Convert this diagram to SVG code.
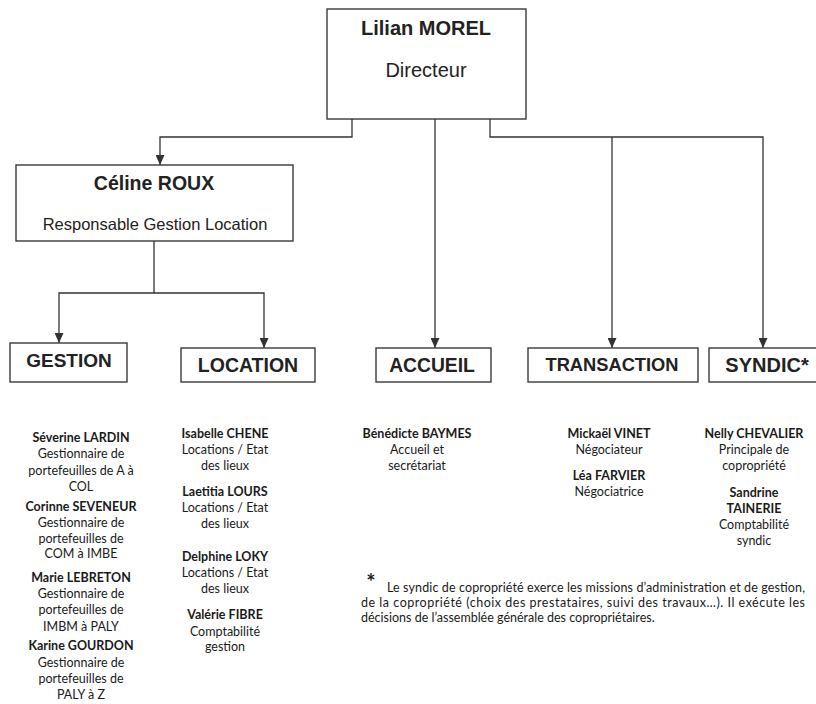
<svg xmlns="http://www.w3.org/2000/svg" width="816" height="704" viewBox="0 0 816 704">
<style>
.box{fill:#fff;stroke:#3a3a3a;stroke-width:1.4}
.conn{fill:none;stroke:#333;stroke-width:1.3}
.h{font-family:"Liberation Sans",Arial,sans-serif;fill:#222;text-anchor:middle}
.b{font-weight:bold}
.s{font-family:Lato,"Open Sans",sans-serif;font-size:12.5px;fill:#1a1a1a;text-anchor:middle}
.n{font-weight:bold}
.f{font-family:Lato,"Open Sans",sans-serif;font-size:12.5px;fill:#1a1a1a}
</style>
<defs>
<marker id="arr" markerUnits="userSpaceOnUse" markerWidth="10" markerHeight="9" refX="10" refY="4.5" orient="auto">
<path d="M0,0 L10,4.5 L0,9 z" fill="#333"/>
</marker>
</defs>
<rect width="816" height="704" fill="#fff"/>
<g id="connectors">
<path class="conn" d="M352,119 V137 H160 V165" marker-end="url(#arr)"/>
<path class="conn" d="M435,119 V348" marker-end="url(#arr)"/>
<path class="conn" d="M490,119 V137 H763 V348" marker-end="url(#arr)"/>
<path class="conn" d="M612,137 V348" marker-end="url(#arr)"/>
<path class="conn" d="M154,241 V293 H59 V343" marker-end="url(#arr)"/>
<path class="conn" d="M154,293 H264 V348" marker-end="url(#arr)"/>
</g>
<g id="directeur">
<rect class="box" x="327" y="9" width="199" height="110"/>
<text class="h b" x="426" y="35" font-size="20">Lilian MOREL</text>
<text class="h" x="426" y="77" font-size="20">Directeur</text>
</g>
<g id="responsable">
<rect class="box" x="16" y="165" width="277" height="76"/>
<text class="h b" x="154" y="190" font-size="19.5">Céline ROUX</text>
<text class="h" x="155" y="230" font-size="16.5">Responsable Gestion Location</text>
</g>
<g id="gestion">
<rect class="box" x="10" y="343" width="117" height="39"/>
<text class="h b" x="69" y="367" font-size="19">GESTION</text>
</g>
<g id="location">
<rect class="box" x="181" y="348" width="134" height="34"/>
<text class="h b" x="248" y="372" font-size="19.5">LOCATION</text>
</g>
<g id="accueil">
<rect class="box" x="376" y="348" width="115" height="34"/>
<text class="h b" x="432" y="372" font-size="19.3">ACCUEIL</text>
</g>
<g id="transaction">
<rect class="box" x="528" y="348" width="170" height="34"/>
<text class="h b" x="612" y="371" font-size="18.3">TRANSACTION</text>
</g>
<g id="syndic">
<rect class="box" x="709" y="348" width="110" height="34"/>
<text class="h b" x="767" y="372" font-size="20">SYNDIC*</text>
</g>
<g id="staff-gestion">
<text class="s n" x="81" y="442">Séverine LARDIN</text>
<text class="s" x="81" y="458">Gestionnaire de</text>
<text class="s" x="81" y="475">portefeuilles de A à</text>
<text class="s" x="81" y="491">COL</text>
<text class="s n" x="81" y="511">Corinne SEVENEUR</text>
<text class="s" x="81" y="527">Gestionnaire de</text>
<text class="s" x="81" y="543">portefeuilles de</text>
<text class="s" x="81" y="558">COM à IMBE</text>
<text class="s n" x="81" y="582">Marie LEBRETON</text>
<text class="s" x="81" y="598">Gestionnaire de</text>
<text class="s" x="81" y="614">portefeuilles de</text>
<text class="s" x="81" y="631">IMBM à PALY</text>
<text class="s n" x="81" y="650">Karine GOURDON</text>
<text class="s" x="81" y="667">Gestionnaire de</text>
<text class="s" x="81" y="683">portefeuilles de</text>
<text class="s" x="81" y="699">PALY à Z</text>
</g>
<g id="staff-location">
<text class="s n" x="225" y="438">Isabelle CHENE</text>
<text class="s" x="225" y="454">Locations / Etat</text>
<text class="s" x="225" y="470">des lieux</text>
<text class="s n" x="225" y="496">Laetitia LOURS</text>
<text class="s" x="225" y="512">Locations / Etat</text>
<text class="s" x="225" y="528">des lieux</text>
<text class="s n" x="225" y="561">Delphine LOKY</text>
<text class="s" x="225" y="577">Locations / Etat</text>
<text class="s" x="225" y="593">des lieux</text>
<text class="s n" x="225" y="619">Valérie FIBRE</text>
<text class="s" x="225" y="636">Comptabilité</text>
<text class="s" x="225" y="651">gestion</text>
</g>
<g id="staff-accueil">
<text class="s n" x="417" y="438">Bénédicte BAYMES</text>
<text class="s" x="417" y="454">Accueil et</text>
<text class="s" x="417" y="470">secrétariat</text>
</g>
<g id="staff-transaction">
<text class="s n" x="609" y="438">Mickaël VINET</text>
<text class="s" x="609" y="454">Négociateur</text>
<text class="s n" x="609" y="480">Léa FARVIER</text>
<text class="s" x="609" y="496">Négociatrice</text>
</g>
<g id="staff-syndic">
<text class="s n" x="754" y="438">Nelly CHEVALIER</text>
<text class="s" x="754" y="454">Principale de</text>
<text class="s" x="754" y="470">copropriété</text>
<text class="s n" x="754" y="497">Sandrine</text>
<text class="s n" x="754" y="513">TAINERIE</text>
<text class="s" x="754" y="529">Comptabilité</text>
<text class="s" x="754" y="545">syndic</text>
</g>
<g id="footnote">
<text x="371" y="590" font-family="Lato,'Open Sans',sans-serif" font-size="22" font-weight="bold" fill="#1a1a1a" text-anchor="middle">*</text>
<text class="f" x="387" y="592" textLength="418" lengthAdjust="spacing">Le syndic de copropriété exerce les missions d’administration et de gestion,</text>
<text class="f" x="361" y="607" textLength="444" lengthAdjust="spacing">de la copropriété (choix des prestataires, suivi des travaux…). Il exécute les</text>
<text class="f" x="361" y="622">décisions de l’assemblée générale des copropriétaires.</text>
</g>
</svg>
